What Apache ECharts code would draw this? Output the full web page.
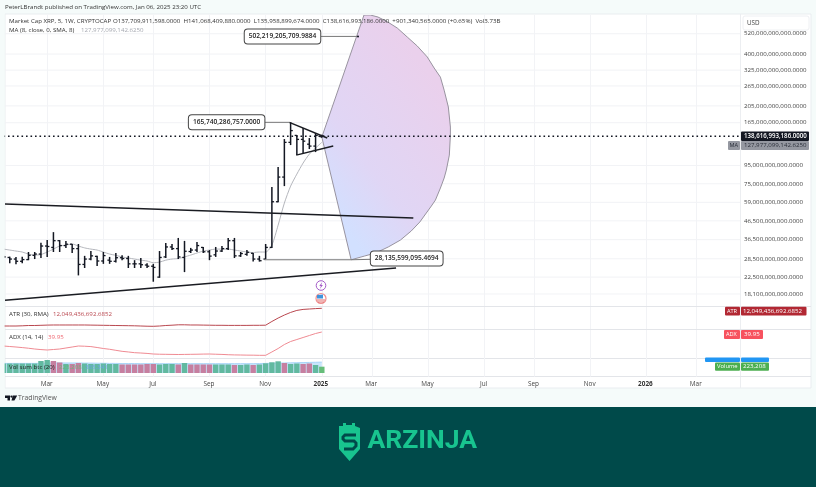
<!DOCTYPE html>
<html><head><meta charset="utf-8">
<style>html,body{margin:0;padding:0;background:#fff}#c{width:816px;height:487px;filter:blur(0.3px)}</style>
<script src="https://cdn.jsdelivr.net/npm/echarts@6/dist/echarts.min.js"></script>
</head><body><div id="c"></div>
<script>
// week index 0 = 15 Jan 2024; all prices in billions of USD
const monthWeeks=[7,16,24,33,42,51,59,68,77,85,94,103,111];
const monthLabels=['Mar','May','Jul','Sep','Nov','2025','Mar','May','Jul','Sep','Nov','2026','Mar'];
const priceTicks=[520,400,325,265,205,165,95,75,59,46.5,36.5,28.5,22.5,18.1];
const opens=[29.6,29.0,28.4,27.6,28.2,29.8,30.3,33.6,33.0,36.0,33.8,34.4,32.5,26.5,28.4,29.4,27.7,28.0,27.6,28.9,28.6,26.7,26.7,26.3,25.9,22.5,29.2,33.2,32.5,29.0,31.3,31.9,33.0,31.2,30.0,31.5,32.5,36.0,29.6,30.2,30.6,28.4,28.4,33.0,59.5,81.8,128,140,133,125,122,137.71];
const highs=[29.6,29.3,29.2,29.3,31.1,31.1,35.0,36.3,40.2,36.3,35.8,34.5,34.5,29.6,31.5,29.6,31.1,29.2,30.7,29.8,29.6,28.0,28.8,26.9,26.7,31.5,34.9,34.5,37.3,35.9,32.8,35.4,33.2,31.9,33.2,33.6,37.3,37.3,31.1,31.9,30.7,29.6,34.5,71.9,93.1,133.6,165.74,140.6,154,135.3,144.4,141.07];
const lows=[28.8,26.9,26.6,26.9,28.0,28.4,28.8,29.2,31.1,31.1,32.8,30.7,23.0,25.3,28.0,26.0,26.7,26.7,27.2,28.0,25.3,25.3,25.3,25.3,21.2,22.3,28.8,31.9,28.4,24.0,30.7,31.1,30.7,28.0,29.2,31.1,31.9,28.8,29.2,29.6,27.5,27.5,28.4,32.8,59.2,72.8,123.6,108.6,111.5,117.4,112.9,135.96];
const closes=[29.2,28.4,27.6,28.2,29.8,30.3,33.6,33.4,36.0,33.8,34.4,32.5,26.5,28.4,29.6,27.7,29.7,27.6,28.9,28.6,26.7,26.7,26.4,25.9,25.5,29.0,33.2,32.5,29.2,31.4,31.9,33.8,31.2,29.5,31.5,32.5,36.0,29.6,30.5,31.0,28.4,27.8,33.0,59.5,81.8,128,149,133,130,122,140,138.62];
const maValues=[32.3,31.9,31.5,31.1,30.3,29.9,30.1,31.1,32.3,33.6,34.0,34.5,33.6,32.8,32.3,31.9,31.1,30.3,29.8,29.2,28.8,28.4,28.0,27.7,27.1,27.3,28.0,28.4,28.6,29.2,29.9,30.7,31.5,31.9,32.3,32.3,32.3,31.9,31.5,31.1,30.9,31.1,31.1,34.0,44,58.5,72.8,85,98,110,119,127.98];
const atrValues=[3.25,3.25,3.25,3.35,3.5,3.5,3.6,3.7,3.75,3.75,3.75,3.75,3.75,3.75,3.7,3.65,3.6,3.55,3.5,3.45,3.4,3.35,3.25,3.15,3.1,3.25,3.5,3.65,3.85,3.85,3.75,3.75,3.7,3.65,3.6,3.6,3.55,3.55,3.55,3.55,3.6,3.6,3.65,5.5,7.2,8.7,10.0,11.0,11.5,11.7,11.9,12.05];
const adxValues=[24.55,24.0,23.45,22.8,22.1,21.25,20.6,20.15,20.7,21.25,22.35,23.45,24.55,24.3,23.9,22.9,21.8,20.95,19.8,18.7,18,17.2,16.85,16.4,15.75,15.5,15.4,15.3,15.2,15.3,15.4,15.5,15.65,15.75,15.5,15.3,14.95,14.75,14.65,14.5,14.45,14.3,14.3,18,21.8,26.2,29.5,31.7,33.9,36.1,38.3,39.95];
const volValues=[336,336,336,336,336,336,425,460,425,372,319,319,354,336,319,319,336,319,319,301,301,301,301,319,319,301,319,319,301,354,301,301,301,301,301,301,301,283,283,301,283,301,343,379,414,354,319,336,319,336,283,223.208];
const volUp=[1,1,1,1,1,1,1,1,0,0,1,0,0,1,1,1,1,1,1,0,0,0,0,0,0,1,1,1,0,1,0,0,0,0,1,1,1,0,1,1,0,1,1,1,1,0,1,1,0,0,1,1];
const volMa=[340,340,340,340,340,340,345,350,355,355,355,355,355,350,350,345,345,340,340,335,335,335,330,330,330,330,330,330,330,330,330,330,330,330,330,330,330,330,330,330,330,335,340,345,350,355,360,365,370,375,380,385.341];
const fanApex=[51,137];
const fanArc=[[57.76,662],[58.76,662],[60.0,645],[61.49,607],[63.09,559.5],[64.7,498],[66.3,443.5],[67.9,385],[69.0,334],[70.0,297],[70.6,251],[71.27,202],[71.6,156],[71.6,140.6],[71.43,108.6],[70.95,89.5],[70.6,80.8],[70.0,71],[69.2,60.8],[68.55,56.3],[66.7,45.8],[65.33,40.8],[63.6,36.3],[61.65,33.2],[59.6,30.7],[57.8,29.5],[55.7,28.14]];
const trendLines=[[0.24,57.8,65.66,48.2],[0.24,16.7,62.9,25.3],[45.8,165.74,51.87,135.3],[46.9,108.6,52.83,122]];
const leaderLines=[[35.75,165.74,45.8,165.74],[44.7,502.22,56.8,502.22],[41.8,28.14,55.7,28.14],[55.7,28.14,64.6,28.6]];
const callouts=[[35.75,165.74,'165,740,286,757.0000'],[44.7,502.22,'502,219,205,709.9884'],[64.6,28.6,'28,135,599,095.4694']];
const anchors=[[56.8,502.22]];
const lastClose=138.62;

const FONT='"Open Sans"';
const FS=6.15;
const xMax=118, X_LEFT=3.5, X_RIGHT=76;
const grids=[{left:X_LEFT,right:X_RIGHT,top:15,height:291},{left:X_LEFT,right:X_RIGHT,top:307,height:22},{left:X_LEFT,right:X_RIGHT,top:330,height:28},{left:X_LEFT,right:X_RIGHT,top:358,height:18.6}];
const GRIDC='#f2f3f6';
function xAx(i,showLabel){return {gridIndex:i,type:'value',min:0,max:xMax,axisLine:{show:false},
  axisTick:{show:false,customValues:monthWeeks},
  splitLine:{show:true,lineStyle:{color:GRIDC,width:1}},
  axisLabel:showLabel?{show:true,customValues:monthWeeks,margin:5,color:'#444',fontFamily:FONT,fontSize:6.4,padding:[0,1,0,0],
     formatter:v=>{const s=monthLabels[monthWeeks.indexOf(v)]||'';return /^20/.test(s)?'{b|'+s+'}':s;},
     rich:{b:{fontWeight:'bold',color:'#333',fontSize:6.4,fontFamily:FONT,padding:[0,1,0,0]}}}:{show:false}};}
function yAx(i,o){return Object.assign({gridIndex:i,position:'right',axisLine:{show:false},axisTick:{show:false},axisLabel:{show:false},splitLine:{show:false}},o);}
const line=(p,q,stroke,w,dash)=>({type:'line',shape:{x1:p[0],y1:p[1],x2:q[0],y2:q[1]},style:{stroke,lineWidth:w,lineDash:dash||null,fill:null},silent:true});
const idx=a=>a.map((v,i)=>[i,v]);

const series=[
 {type:'custom',name:'Ticks',xAxisIndex:0,yAxisIndex:0,z:1,silent:true,data:priceTicks.map(v=>[v]),
  renderItem:(p,api)=>{const v=api.value(0),a=api.coord([0,v]),b=api.coord([xMax,v]);
   return {type:'group',children:[line(a,b,GRIDC,1),
     {type:'text',x:b[0]+4,y:a[1],style:{text:(v*1e9).toLocaleString('en-US',{minimumFractionDigits:4}),fill:'#444',font:FS+'px '+FONT,textVerticalAlign:'middle'},silent:true}]};}},
 {type:'custom',name:'Fan',xAxisIndex:0,yAxisIndex:0,z:2,silent:true,clip:true,data:[0],
  renderItem:(p,api)=>{const arc=fanArc.map(q=>api.coord(q)),ap=api.coord(fanApex);
   const fill=new echarts.graphic.LinearGradient(0,0.75,1,0.35,[{offset:0,color:'#d2e0ff'},{offset:0.35,color:'#e0d6f5'},{offset:1,color:'#ead0ec'}]);
   return {type:'group',children:[
    {type:'polygon',shape:{points:[ap].concat(arc)},style:{fill,stroke:null},silent:true},
    {type:'polyline',shape:{points:arc},style:{stroke:'#98939f',lineWidth:1,fill:null,lineJoin:'round'},silent:true},
    line(ap,arc[0],'#98939f',1),line(ap,arc[arc.length-1],'#98939f',1)]};}},
 {type:'custom',name:'Last close',xAxisIndex:0,yAxisIndex:0,z:3,silent:true,data:[[lastClose]],
  renderItem:(p,api)=>line(api.coord([0,api.value(0)]),api.coord([xMax,api.value(0)]),'#131722',1.6,[1.6,2.9])},
 {type:'line',name:'MA',xAxisIndex:0,yAxisIndex:0,z:4,data:idx(maValues),showSymbol:false,silent:true,smooth:0.25,lineStyle:{color:'#b4b6bc',width:1}},
 {type:'custom',name:'OHLC',xAxisIndex:0,yAxisIndex:0,z:5,silent:true,clip:true,
  data:opens.map((o,i)=>[i,o,highs[i],lows[i],closes[i]]),
  renderItem:(p,api)=>{const i=api.value(0),c='#131722';
   const xy=(v,d)=>{const q=api.coord([i,v]);return [q[0]+d,q[1]];};
   return {type:'group',children:[line(xy(api.value(2),0),xy(api.value(3),0),c,1.5),
     line(xy(api.value(1),-2.2),xy(api.value(1),0),c,1.3),line(xy(api.value(4),0),xy(api.value(4),2.2),c,1.3)]};}},
 {type:'custom',name:'Trend',xAxisIndex:0,yAxisIndex:0,z:6,silent:true,clip:true,data:trendLines,
  renderItem:(p,api)=>line(api.coord([api.value(0),api.value(1)]),api.coord([api.value(2),api.value(3)]),'#1a1c22',1.5)},
 {type:'custom',name:'Leaders',xAxisIndex:0,yAxisIndex:0,z:6,silent:true,data:leaderLines,
  renderItem:(p,api)=>line(api.coord([api.value(0),api.value(1)]),api.coord([api.value(2),api.value(3)]),'#777',1)},
 {type:'custom',name:'Anchors',xAxisIndex:0,yAxisIndex:0,z:6,silent:true,data:anchors,
  renderItem:(p,api)=>{const q=api.coord([api.value(0),api.value(1)]);return {type:'circle',shape:{cx:q[0],cy:q[1],r:1},style:{fill:'#131722'},silent:true};}},
 {type:'custom',name:'Callouts',xAxisIndex:0,yAxisIndex:0,z:7,silent:true,data:callouts,
  renderItem:(p,api)=>{const q=api.coord([api.value(0),api.value(1)]);
   return {type:'text',x:q[0],y:q[1],style:{text:callouts[p.dataIndex][2],font:'600 6.6px '+FONT,fill:'#222',textAlign:'center',textVerticalAlign:'middle',
     backgroundColor:'#fff',borderColor:'#444',borderWidth:1,borderRadius:3,padding:[3.5,4,3.5,4]},silent:true};}},
 {type:'line',name:'ATR',xAxisIndex:1,yAxisIndex:1,data:idx(atrValues),showSymbol:false,silent:true,lineStyle:{color:'#b9474f',width:1}},
 {type:'line',name:'ADX',xAxisIndex:2,yAxisIndex:2,data:idx(adxValues),showSymbol:false,silent:true,lineStyle:{color:'#ef8a92',width:1}},
 {type:'line',name:'Vol MA',xAxisIndex:3,yAxisIndex:3,z:1,data:idx(volMa),showSymbol:false,silent:true,lineStyle:{color:'#a9d5f8',width:1},areaStyle:{color:'#bcdffa',opacity:0.8}},
 {type:'bar',name:'Vol',xAxisIndex:3,yAxisIndex:3,z:2,barWidth:5.4,silent:true,
  data:volValues.map((v,i)=>({value:[i,v],itemStyle:{color:i===51?'#66bd7a':(volUp[i]?'#62b9a0':'#c67fa0')}}))}
];

const BG='#f5fbfa';
const T=(x,y,text,fill,size,weight)=>({type:'text',x,y,z:50,silent:true,style:{text,fill,font:(weight?weight+' ':'')+(size||FS)+'px '+FONT,textVerticalAlign:'middle'}});
const R=(x,y,w,h,fill,r,z)=>({type:'rect',shape:{x,y,width:w,height:h,r:r||0},style:{fill},z:z==null?40:z,silent:true});
const graphic=[
 {type:'rect',shape:{x:5,y:14,width:806,height:374},style:{fill:'#fff',stroke:'#e9edf0',lineWidth:1},z:-1,silent:true},
 R(0,14,4.6,374,BG,0,45),
 {type:'line',shape:{x1:740.5,y1:14,x2:740.5,y2:388},style:{stroke:'#eceef1'},z:0,silent:true},
 {type:'line',shape:{x1:5,y1:306.5,x2:811,y2:306.5},style:{stroke:'#e3e5e9'},z:0,silent:true},
 {type:'line',shape:{x1:5,y1:329.5,x2:811,y2:329.5},style:{stroke:'#e3e5e9'},z:0,silent:true},
 {type:'line',shape:{x1:5,y1:358.5,x2:811,y2:358.5},style:{stroke:'#e3e5e9'},z:0,silent:true},
 {type:'line',shape:{x1:5,y1:376.5,x2:811,y2:376.5},style:{stroke:'#e3e5e9'},z:0,silent:true},
 T(5,7.5,'PeterLBrandt published on TradingView.com, Jan 06, 2025 23:20 UTC','#333'),
 T(9,21,'Market Cap XRP, 5, 1W, CRYPTOCAP','#333'),
 T(113,21,'O137,709,911,598.0000  H141,068,409,880.0000  L135,958,899,674.0000  C138,616,993,186.0000  +901,340,565.0000 (+0.65%)  Vol3.73B','#333'),
 T(9,30.5,'MA (8, close, 0, SMA, 8)','#333'),
 T(81,30.5,'127,977,099,142.6250','#a5a8b0'),
 T(9,314,'ATR (30, RMA)','#333'),T(53,314,'12,049,436,692.6852','#b9474f'),
 T(9,337,'ADX (14, 14)','#333'),T(48,337,'39.95','#ef6a74'),
 T(9,367,'Vol sum btc (20)','#222'),T(59,367,'223,208','#6fb27a'),T(85,367,'385,341','#6aa5e0'),
 {type:'rect',shape:{x:743,y:16,width:66,height:14,r:2},style:{fill:'#fff',stroke:'#eef0f3'},z:45,silent:true},
 T(747,23,'USD','#444',6.3),
 R(741,131.5,68,9.5,'#131722',1),T(744,136.3,'138,616,993,186.0000','#fff',FS,'600'),
 R(728,141,12,9,'#9598a1',1),T(729.5,145.5,'MA','#2a2e39',5.6),
 R(741,141,68,9,'#9598a1',1),T(744,145.6,'127,977,099,142.6250','#2a2e39'),
 R(725,306.7,15,8.8,'#b22833',1),T(727,311.2,'ATR','#fff',5.6),
 R(741,306.7,65.5,8.8,'#b22833',1),T(743,311.2,'12,049,436,692.6852','#fff'),
 R(724,330,16,9,'#f7525f',1),T(726,334.6,'ADX','#fff',5.6),
 R(741,330,22,9,'#f7525f',1),T(744,334.6,'39.95','#fff'),
 R(705,357.5,35,4.5,'#2196f3',1),R(741,357.5,28,4.5,'#2196f3',1),
 R(715,362.5,25,8.2,'#4caf50',1),T(717,366.7,'Volume','#fff',5.8),
 R(741,362.5,28,8.2,'#4caf50',1),T(743,366.7,'223,208','#fff'),
 {type:'circle',shape:{cx:321,cy:285.5,r:4.8},style:{fill:'#fff',stroke:'#a45bc8',lineWidth:1},z:40,silent:true},
 {type:'polygon',shape:{points:[[322.2,282],[319.3,286],[320.9,286],[319.9,289],[322.9,285],[321.3,285]]},style:{fill:'#a45bc8'},z:41,silent:true},
 {type:'circle',shape:{cx:321,cy:298.5,r:5},style:{fill:'#fff',stroke:'#ef8f8f',lineWidth:1.2},z:40,silent:true},
 {type:'polygon',shape:{points:[[317,295],[323,294.6],[323,298.5],[317,298.5]]},style:{fill:'#3f93dc'},z:41,silent:true},
 {type:'line',shape:{x1:317,y1:300,x2:325,y2:300},style:{stroke:'#e26a6a',lineWidth:1},z:41,silent:true},
 {type:'line',shape:{x1:318,y1:302,x2:324,y2:302},style:{stroke:'#e26a6a',lineWidth:1},z:41,silent:true},
 {type:'polygon',shape:{points:[[5,395.5],[10,395.5],[10,400.5],[7.5,400.5],[7.5,398],[5,398]]},style:{fill:'#131722'},z:40,silent:true},
 {type:'polygon',shape:{points:[[12.7,395.5],[17.2,395.5],[14.4,400.5],[11.5,400.5]]},style:{fill:'#131722'},z:40,silent:true},
 {type:'circle',shape:{cx:11.4,cy:396.6,r:1.1},style:{fill:'#131722'},z:40,silent:true},
 T(18,398.2,'TradingView','#555',6.8),
 R(0,407,816,80,'#004a4a',0,30),
 {type:'polygon',shape:{points:[[339,426],[343,426],[343,423],[346,423],[346,425],[352,425],[352,423],[355,423],[355,426],[360,428],[360,449],[349.5,461],[339,449]]},style:{fill:'#18c48f'},z:40,silent:true},
 {type:'polyline',shape:{points:[[356,435],[345,435],[343,437],[343,439],[345,441],[354,441],[356,443],[356,446],[353,449],[344,449]]},style:{stroke:'#004a4a',lineWidth:3,fill:null},z:41,silent:true},
 {type:'text',x:367.5,y:441.5,z:40,silent:true,style:{text:'ARZINJA',fill:'#18c48f',font:'700 26.5px Roboto',textVerticalAlign:'middle'}}
];

const chart=echarts.init(document.getElementById('c'),null,{renderer:'canvas',width:816,height:487});
chart.setOption({animation:false,backgroundColor:BG,tooltip:{show:false},legend:{show:false},
 grid:grids,
 xAxis:[xAx(0,false),xAx(1,false),xAx(2,false),xAx(3,true)],
 yAxis:[yAx(0,{type:'log',min:15.5,max:662}),yAx(1,{type:'value',min:1.76,max:12.7}),yAx(2,{type:'value',min:11.35,max:42.15}),yAx(3,{type:'value',min:-127,max:531})],
 series,graphic});
</script></body></html>
